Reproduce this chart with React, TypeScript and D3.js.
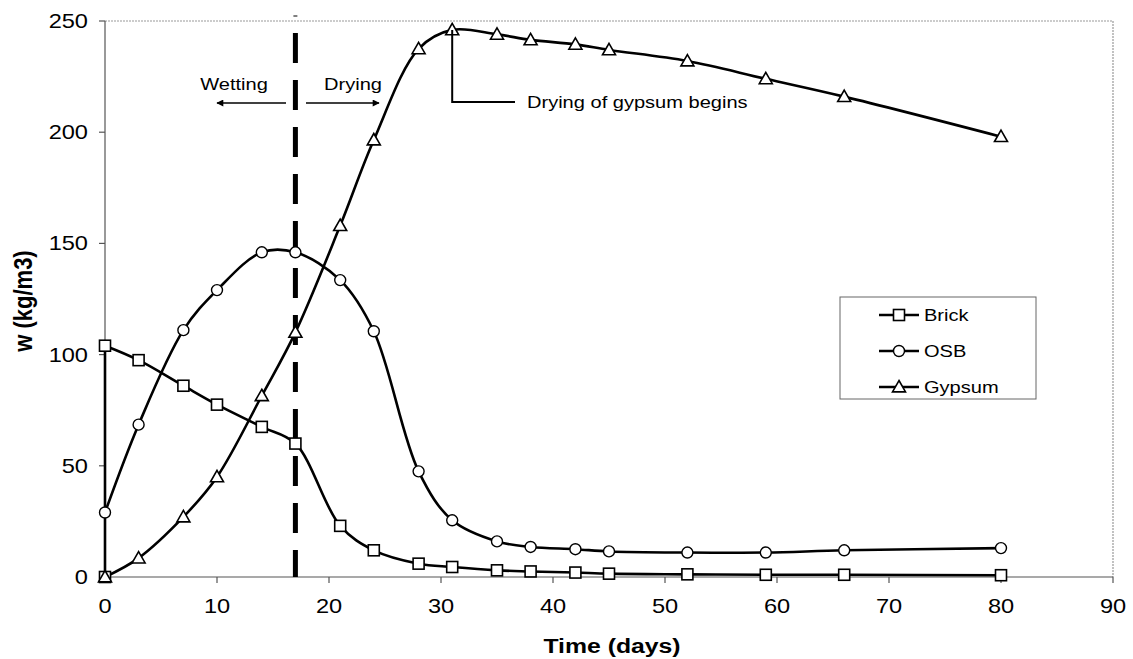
import React from "react";
import * as d3 from "d3";

const days = [0, 3, 7, 10, 14, 17, 21, 24, 28, 31, 35, 38, 42, 45, 52, 59, 66, 80];
const brickDays = [0, 0, 3, 7, 10, 14, 17, 21, 24, 28, 31, 35, 38, 42, 45, 52, 59, 66, 80];
const brick = [0, 104, 97.5, 86, 77.5, 67.5, 60, 23, 12, 6, 4.5, 3, 2.5, 2, 1.5, 1.2, 1, 1, 0.8];
const osb = [29, 68.5, 111, 129, 146, 146, 133.5, 110.5, 47.5, 25.5, 16, 13.5, 12.5, 11.5, 11, 11, 12, 13];
const gypsum = [0, 8.5, 27, 45, 81.5, 110, 158, 196.5, 237.5, 246, 244, 241.5, 239.5, 237, 232, 224, 216, 198];
const xTicks = [0, 10, 20, 30, 40, 50, 60, 70, 80, 90];
const yTicks = [0, 50, 100, 150, 200, 250];
const seriesNames = ["Brick", "OSB", "Gypsum"];
const dividerDay = 17;
const peakDay = 31;
const peakValue = 246;

const FONT = "'Liberation Sans', Arial, sans-serif";
const SX = 1.18;

function SText({
  x,
  y,
  children,
  size,
  anchor = "start",
  bold = false,
  dy,
}: {
  x: number;
  y: number;
  children: React.ReactNode;
  size: number;
  anchor?: string;
  bold?: boolean;
  dy?: string;
}) {
  return (
    <g transform={`translate(${x},${y}) scale(${SX},1)`}>
      <text x={0} y={0} dy={dy} textAnchor={anchor as any} fontSize={size} fontWeight={bold ? "bold" : "normal"}>
        {children}
      </text>
    </g>
  );
}

function Marker({ type, x, y }: { type: string; x: number; y: number }) {
  if (type === "square") {
    return <rect x={x - 5.5} y={y - 5.5} width={11} height={11} fill="white" stroke="#000" strokeWidth={1.6} />;
  }
  if (type === "circle") {
    return <circle cx={x} cy={y} r={5.5} fill="white" stroke="#000" strokeWidth={1.4} />;
  }
  const s = 6.5;
  return (
    <path
      d={`M${x},${y - s} L${x + s},${y + s * 0.75} L${x - s},${y + s * 0.75} Z`}
      fill="white"
      stroke="#000"
      strokeWidth={1.6}
    />
  );
}

export default function App() {
  const W = 1133;
  const H = 659;
  const left = 105;
  const right = 1113;
  const top = 21;
  const bottom = 577;
  const x = d3.scaleLinear().domain([0, 90]).range([left, right]);
  const y = d3.scaleLinear().domain([0, 250]).range([bottom, top]);

  const smooth = d3
    .line<[number, number]>()
    .x((d) => x(d[0]))
    .y((d) => y(d[1]))
    .curve(d3.curveCatmullRom.alpha(0.5));
  const straight = d3
    .line<[number, number]>()
    .x((d) => x(d[0]))
    .y((d) => y(d[1]));

  // split a series where consecutive points share the same x: those parts are drawn straight
  const buildPath = (pts: [number, number][]) => {
    let start = 0;
    let d = "";
    while (start + 1 < pts.length && pts[start + 1][0] === pts[start][0]) {
      d += straight([pts[start], pts[start + 1]]) || "";
      start++;
    }
    d += smooth(pts.slice(start)) || "";
    return d;
  };

  const series = [
    { name: seriesNames[0], type: "square", pts: brickDays.map((d, i) => [d, brick[i]] as [number, number]) },
    { name: seriesNames[1], type: "circle", pts: days.map((d, i) => [d, osb[i]] as [number, number]) },
    { name: seriesNames[2], type: "triangle", pts: days.map((d, i) => [d, gypsum[i]] as [number, number]) },
  ];

  const legendX = 840;
  const legendY = 297;
  const legendW = 196;
  const legendH = 102;

  const dx = x(dividerDay);
  const px = x(peakDay);
  const py = y(peakValue);

  return (
    <svg
      width={W}
      height={H}
      style={{ position: "absolute", left: 0, top: 0, background: "white" }}
      fontFamily={FONT}
    >
      <defs>
        <marker id="arr" viewBox="0 0 10 10" refX="9" refY="5" markerWidth="9" markerHeight="7" markerUnits="userSpaceOnUse" orient="auto-start-reverse">
          <path d="M0,0 L10,5 L0,10 Z" fill="#000" />
        </marker>
      </defs>
      <rect x={0} y={0} width={W} height={H} fill="white" />
      {/* plot frame */}
      <line x1={left} y1={top} x2={right} y2={top} stroke="#999" strokeWidth={1.2} strokeDasharray="2,1" />
      <line x1={right} y1={top} x2={right} y2={bottom} stroke="#999" strokeWidth={1.2} strokeDasharray="2,1" />
      <line x1={left} y1={top} x2={left} y2={bottom} stroke="#555" strokeWidth={1.2} />
      <line x1={left} y1={bottom} x2={right} y2={bottom} stroke="#555" strokeWidth={1.2} />

      {/* y axis ticks */}
      {yTicks.map((t) => (
        <g key={"y" + t}>
          <line x1={left - 6} x2={left} y1={y(t)} y2={y(t)} stroke="#555" strokeWidth={1.2} />
          <SText x={left - 17} y={y(t)} dy="0.35em" anchor="end" size={20}>
            {t}
          </SText>
        </g>
      ))}
      {/* x axis ticks */}
      {xTicks.map((t) => (
        <g key={"x" + t}>
          <line x1={x(t)} x2={x(t)} y1={bottom} y2={bottom + 6} stroke="#555" strokeWidth={1.2} />
          <SText x={x(t)} y={bottom + 36} anchor="middle" size={20}>
            {t}
          </SText>
        </g>
      ))}

      <SText x={612} y={653} anchor="middle" size={21} bold>
        Time (days)
      </SText>
      <g transform="translate(32,301) scale(1.15,1)">
        <text transform="rotate(-90)" textAnchor="middle" fontSize={22} fontWeight="bold">
          w (kg/m3)
        </text>
      </g>

      {/* divider */}
      <line x1={dx} x2={dx} y1={33} y2={bottom} stroke="#000" strokeWidth={5} strokeDasharray="30,17" />
      <line x1={dx - 2} x2={dx + 2} y1={16} y2={16} stroke="#000" strokeWidth={1} />

      {/* series */}
      {series.map((s) => (
        <path key={s.name} d={buildPath(s.pts)} fill="none" stroke="#000" strokeWidth={2.6} />
      ))}
      {series.map((s) =>
        s.pts.map((p, i) => <Marker key={s.name + i} type={s.type} x={x(p[0])} y={y(p[1])} />)
      )}

      {/* Wetting / Drying annotations */}
      <SText x={234} y={90} anchor="middle" size={17}>
        Wetting
      </SText>
      <SText x={353} y={90} anchor="middle" size={17}>
        Drying
      </SText>
      <line x1={286} y1={103} x2={217} y2={103} stroke="#000" strokeWidth={1.3} markerEnd="url(#arr)" />
      <line x1={306} y1={103} x2={379} y2={103} stroke="#000" strokeWidth={1.3} markerEnd="url(#arr)" />

      {/* gypsum callout */}
      <polyline
        points={`${px},${py} ${px},${102} ${515},${102}`}
        fill="none"
        stroke="#000"
        strokeWidth={2}
      />
      <SText x={527} y={108} size={17}>
        Drying of gypsum begins
      </SText>

      {/* legend */}
      <rect x={legendX} y={legendY} width={legendW} height={legendH} fill="white" stroke="#666" strokeWidth={1} />
      {series.map((s, i) => {
        const cy = 315 + i * 36;
        return (
          <g key={"leg" + s.name}>
            <line x1={879} x2={919} y1={cy} y2={cy} stroke="#000" strokeWidth={2.6} />
            <Marker type={s.type} x={899} y={cy} />
            <SText x={924} y={cy} dy="0.35em" size={17}>
              {s.name}
            </SText>
          </g>
        );
      })}
    </svg>
  );
}
